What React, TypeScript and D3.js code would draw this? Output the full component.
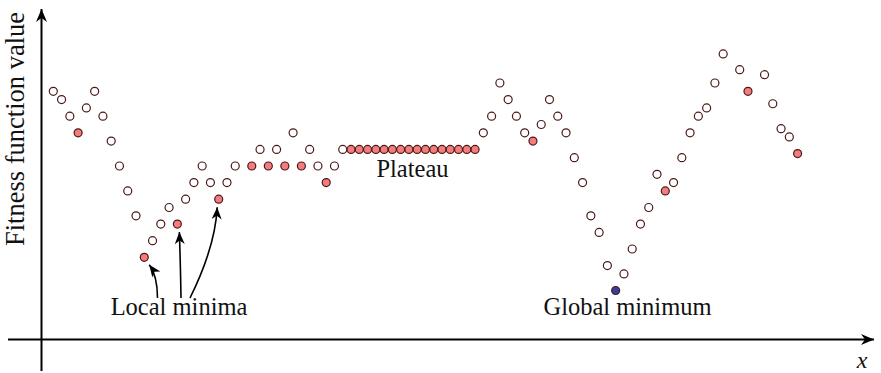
import React from "react";
import * as d3 from "d3";

// candidate solutions: position index along x, fitness level, kind
const xIndex = [
  0, 1, 2, 3, 4, 5, 6, 7, 8, 9, 10, 11, 12, 13, 14, 15, 16, 17, 18, 19, 20, 21, 22,
  24, 25, 26, 27, 28, 29, 30, 31, 32, 33, 34, 35,
  36, 37, 38, 39, 40, 41, 42, 43, 44, 45, 46, 47, 48, 49, 50, 51,
  52, 53, 54, 55, 56, 57, 58, 59, 60, 61, 62, 63, 64, 65, 66, 67, 68, 69, 70,
  71, 72, 73, 74, 75, 76, 77, 78, 79, 80, 81, 83, 84, 86, 87, 88, 89, 90,
];
const fitness = [
  30, 29, 27, 25, 28, 30, 27, 24, 21, 18, 15, 10, 12, 14, 16, 14, 17, 19, 21, 19, 17, 19, 21,
  21, 23, 21, 23, 21, 25, 21, 23, 21, 19, 21, 23,
  23, 23, 23, 23, 23, 23, 23, 23, 23, 23, 23, 23, 23, 23, 23, 23,
  25, 27, 31, 29, 27, 25, 24, 26, 29, 27, 25, 22, 19, 15, 13, 9, 6, 8, 11,
  14, 16, 20, 18, 19, 22, 25, 27, 28, 31, 34.5, 32.6, 30, 32, 28.5, 25.5, 24.5, 22.5,
];
// o = ordinary point, r = local minimum / plateau, b = global minimum
const kind = [
  "o", "o", "o", "r", "o", "o", "o", "o", "o", "o", "o", "r", "o", "o", "o", "r", "o", "o", "o", "o", "r", "o", "o",
  "r", "o", "r", "o", "r", "o", "r", "o", "o", "r", "o", "o",
  "r", "r", "r", "r", "r", "r", "r", "r", "r", "r", "r", "r", "r", "r", "r", "r",
  "o", "o", "o", "o", "o", "o", "r", "o", "o", "o", "o", "o", "o", "o", "o", "o", "b", "o", "o",
  "o", "o", "o", "r", "o", "o", "o", "o", "o", "o", "o", "o", "r", "o", "o", "o", "o", "r",
];

const labels = ["Local minima", "Plateau", "Global minimum"];
const axisLabels = ["Fitness function value", "x"];

// annotation arrows point at these solution indices
const arrowTargets = [11, 15, 20];

const W = 881;
const H = 373;

export default function App() {
  const x = d3.scaleLinear().domain([0, 90]).range([53.3, 797.6]);
  const y = d3.scaleLinear().domain([0, 30]).range([340.3, 91.3]);

  const fillOf = (k: string) =>
    k === "r" ? "#f47c7c" : k === "b" ? "#3b3d9c" : "#ffffff";

  const ox = 41.5;
  const oy = 339.5;

  const startPts: [number, number][] = [
    [157.5, 298],
    [181, 298],
    [190, 298],
  ];
  const arrowPaths = arrowTargets.map((ti, k) => {
    const pos = xIndex.indexOf(ti);
    const tx = x(xIndex[pos]);
    const ty = y(fitness[pos]);
    const [sx, sy] = startPts[k];
    let ex: number, ey: number, cx: number, cy: number;
    if (k === 0) {
      ex = tx + 5;
      ey = ty + 7.5;
      cx = sx;
      cy = sy - 22;
    } else if (k === 1) {
      ex = tx + 2;
      ey = ty + 8;
      cx = sx - 0.5;
      cy = (sy + ey) / 2;
    } else {
      ex = tx - 1.5;
      ey = ty + 8;
      cx = ex - 2;
      cy = ey + 40;
    }
    const p = d3.path();
    p.moveTo(sx, sy);
    p.quadraticCurveTo(cx, cy, ex, ey);
    return p.toString();
  });

  const font = "'Liberation Serif', 'Times New Roman', serif";

  return (
    <svg width={W} height={H} style={{ position: "absolute", left: 0, top: 0 }}>
      <defs>
        <marker
          id="ah"
          viewBox="-13 -6 15 12"
          refX={0}
          refY={0}
          markerWidth={15}
          markerHeight={12}
          markerUnits="userSpaceOnUse"
          orient="auto"
        >
          <path d="M0,0 L-12,-5 L-8.5,0 L-12,5 Z" fill="#000" />
        </marker>
        <marker
          id="axh"
          viewBox="-14 -7 16 14"
          refX={0}
          refY={0}
          markerWidth={16}
          markerHeight={14}
          markerUnits="userSpaceOnUse"
          orient="auto"
        >
          <path d="M0,0 L-13,-5.5 L-9,0 L-13,5.5 Z" fill="#000" />
        </marker>
      </defs>

      {/* axes */}
      <line x1={ox} y1={371} x2={ox} y2={9} stroke="#000" strokeWidth={2} markerEnd="url(#axh)" />
      <line x1={8} y1={oy} x2={874} y2={oy} stroke="#000" strokeWidth={2} markerEnd="url(#axh)" />

      {/* points */}
      {xIndex.map((xi, i) => (
        <circle
          key={i}
          cx={x(xi)}
          cy={y(fitness[i])}
          r={4}
          fill={fillOf(kind[i])}
          stroke="#4a1a1a"
          strokeWidth={1.2}
        />
      ))}

      {/* annotation arrows */}
      {arrowPaths.map((d, i) => (
        <path key={i} d={d} fill="none" stroke="#000" strokeWidth={1.6} markerEnd="url(#ah)" />
      ))}

      {/* labels */}
      <text x={179} y={315} textAnchor="middle" fontFamily={font} fontSize={24.5} fill="#111">
        {labels[0]}
      </text>
      <text x={412.5} y={177} textAnchor="middle" fontFamily={font} fontSize={24.5} fill="#111">
        {labels[1]}
      </text>
      <text x={627.5} y={315} textAnchor="middle" fontFamily={font} fontSize={24.5} fill="#111">
        {labels[2]}
      </text>
      <text
        transform="translate(24,129) rotate(-90)"
        textAnchor="middle"
        fontFamily={font}
        fontSize={26.5}
        fill="#111"
      >
        {axisLabels[0]}
      </text>
      <text x={862} y={368} textAnchor="middle" fontFamily={font} fontStyle="italic" fontSize={24} fill="#111">
        {axisLabels[1]}
      </text>
    </svg>
  );
}
